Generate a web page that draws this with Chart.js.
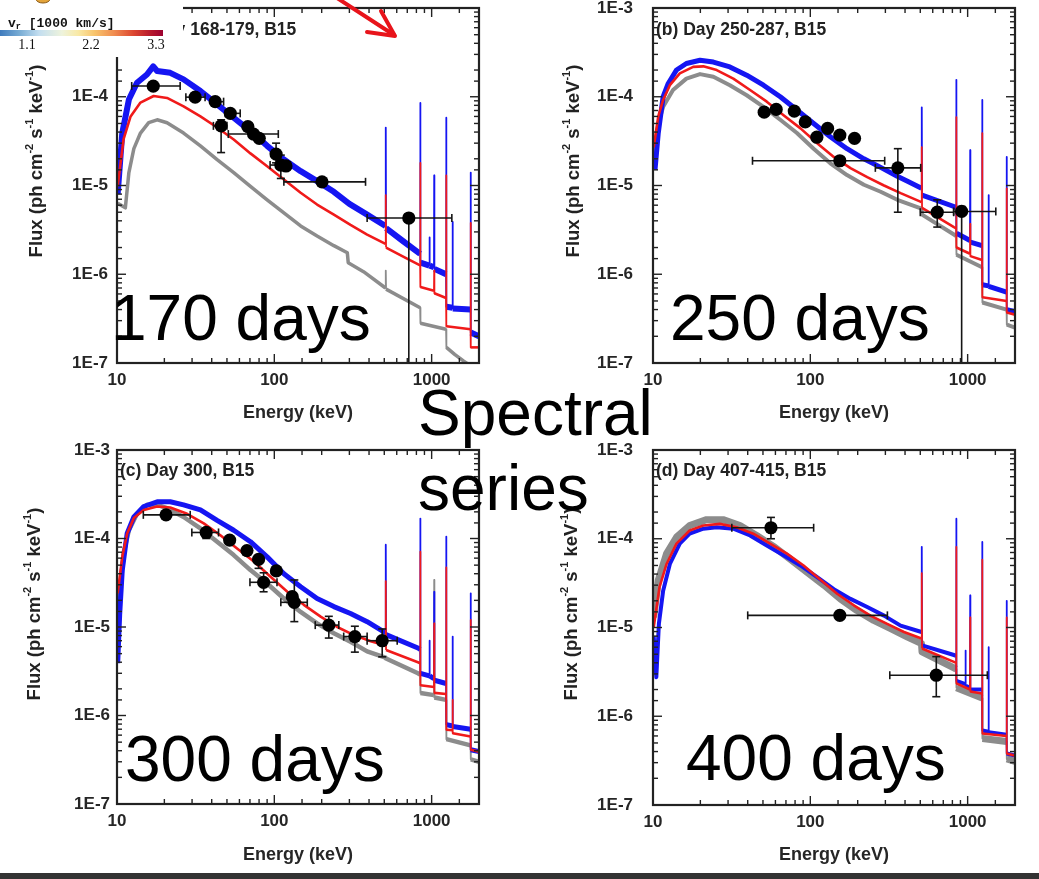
<!DOCTYPE html>
<html><head><meta charset="utf-8">
<script src="https://cdn.jsdelivr.net/npm/chart.js@4.4.1/dist/chart.umd.min.js"></script>
<style>
html,body{margin:0;padding:0;background:#fff;}
body{width:1039px;height:879px;position:relative;overflow:hidden;font-family:'Liberation Sans',Arial,sans-serif;}
.panel{position:absolute;}
.layer{position:absolute;left:0;top:0;width:1039px;height:879px;pointer-events:none;overflow:visible;}
#colorbar{position:absolute;left:0;top:0;width:183px;height:57px;background:#fff;}
#bar{position:absolute;left:0;top:30px;width:163px;height:6px;
 background:linear-gradient(to right,#3f7bbd 0%,#78acd4 12%,#c3def0 24%,#eef3dc 38%,#f9e9a6 48%,#f8c46c 58%,#f08c50 70%,#dc4630 82%,#b81a2c 92%,#9c0030 100%);}
#bottombar{position:absolute;left:0;top:873px;width:1039px;height:6px;background:#333;}
</style></head><body>
<div class="panel" style="left:0;top:0"><canvas id="ca" width="490" height="430"></canvas></div>
<div class="panel" style="left:520px;top:0"><canvas id="cb" width="510" height="430"></canvas></div>
<div class="panel" style="left:0;top:430px"><canvas id="cc" width="490" height="440"></canvas></div>
<div class="panel" style="left:520px;top:430px"><canvas id="cd" width="510" height="440"></canvas></div>

<svg class="layer" id="titles" xmlns="http://www.w3.org/2000/svg" font-family="Liberation Sans, Arial, sans-serif" font-weight="bold" fill="#222">
  <text x="127" y="35" font-size="17.5">(a) Day 168-179, B15</text>
  <text x="656" y="35" font-size="17.5">(b) Day 250-287, B15</text>
  <text x="120" y="476" font-size="17.5">(c) Day 300, B15</text>
  <text x="656" y="476" font-size="17.5">(d) Day 407-415, B15</text>
  <g font-size="18.5">
    <text transform="translate(35,161) rotate(-90)" text-anchor="middle" dominant-baseline="central">Flux (ph cm<tspan dy="-6" font-size="11">-2</tspan><tspan dy="6"> s</tspan><tspan dy="-6" font-size="11">-1</tspan><tspan dy="6"> keV</tspan><tspan dy="-6" font-size="11">-1</tspan><tspan dy="6">)</tspan></text>
    <text transform="translate(572,161) rotate(-90)" text-anchor="middle" dominant-baseline="central">Flux (ph cm<tspan dy="-6" font-size="11">-2</tspan><tspan dy="6"> s</tspan><tspan dy="-6" font-size="11">-1</tspan><tspan dy="6"> keV</tspan><tspan dy="-6" font-size="11">-1</tspan><tspan dy="6">)</tspan></text>
    <text transform="translate(33,604) rotate(-90)" text-anchor="middle" dominant-baseline="central">Flux (ph cm<tspan dy="-6" font-size="11">-2</tspan><tspan dy="6"> s</tspan><tspan dy="-6" font-size="11">-1</tspan><tspan dy="6"> keV</tspan><tspan dy="-6" font-size="11">-1</tspan><tspan dy="6">)</tspan></text>
    <text transform="translate(570,604) rotate(-90)" text-anchor="middle" dominant-baseline="central">Flux (ph cm<tspan dy="-6" font-size="11">-2</tspan><tspan dy="6"> s</tspan><tspan dy="-6" font-size="11">-1</tspan><tspan dy="6"> keV</tspan><tspan dy="-6" font-size="11">-1</tspan><tspan dy="6">)</tspan></text>
  </g>
</svg>

<div id="colorbar">
  <div id="bar"></div>
  <svg width="183" height="57" style="position:absolute;left:0;top:0" xmlns="http://www.w3.org/2000/svg">
    <text x="8" y="27" font-family="Liberation Mono, monospace" font-weight="bold" font-size="13" fill="#111">v<tspan dy="2" font-size="8.5">r</tspan><tspan dy="-2"> [1000  km/s]</tspan></text>
    <g font-family="Liberation Serif, serif" font-size="14" fill="#111" text-anchor="middle">
      <text x="27" y="49">1.1</text><text x="91" y="49">2.2</text><text x="156" y="49">3.3</text>
    </g>
  </svg>
</div>

<svg class="layer" id="overlay" xmlns="http://www.w3.org/2000/svg" font-family="Liberation Sans, Arial, sans-serif" fill="#000">
  <ellipse cx="43" cy="-1" rx="7" ry="4" fill="#e3a43a" stroke="#8a5a18" stroke-width="1"/>
  <g stroke="#e8141b" stroke-width="4" stroke-linecap="round" stroke-linejoin="round" fill="none">
    <line x1="334" y1="-4" x2="394" y2="35"/>
    <polyline points="367,32 395,36 381,11"/>
  </g>
  <g font-size="64">
    <text x="111" y="340">170 days</text>
    <text x="670" y="340">250 days</text>
    <text x="125" y="781">300 days</text>
    <text x="686" y="780">400 days</text>
    <text x="418" y="435">Spectral</text>
    <text x="418" y="510">series</text>
  </g>
</svg>
<div id="bottombar"></div>

<script>
// ---------------- data (energy keV, flux ph cm^-2 s^-1 keV^-1) ----------------
const xTickValues = [10, 100, 1000];
const xTickLabels = ['10', '100', '1000'];
const yTickValues = [1e-7, 1e-6, 1e-5, 1e-4, 1e-3];
const yTickLabels = ['1E-7', '1E-6', '1E-5', '1E-4', '1E-3'];

// Panel (a) Day 168-179
const aBlue = [[10.1,8e-6],[10.8,3.9e-5],[11.9,9.3e-5],[13.4,1.44e-4],[15.5,1.78e-4],[17,2.2e-4],[18,1.95e-4],[21.8,1.86e-4],[26.5,1.57e-4],[33.9,1.16e-4],[43.3,8.2e-5],[55.2,5.8e-5],[70.5,4.1e-5],[90,2.8e-5],[115,1.96e-5],[147,1.45e-5],[187,1.12e-5],[239,8.5e-6],[300,6.2e-6],[389,4.7e-6],[509,3.5e-6],[511,4.5e-5],[513,3.3e-6],[650,2.4e-6],[845,1.7e-6],[847,8.5e-5],[849,1.35e-6],[968,1.25e-6],[970,2.6e-6],[972,1.25e-6],[1035,1.2e-6],[1038,1.3e-5],[1041,1.15e-6],[1235,1.0e-6],[1238,5.8e-5],[1241,4.3e-7],[1358,4.2e-7],[1360,3.9e-6],[1362,4.1e-7],[1768,4.0e-7],[1771,1.4e-5],[1774,2.2e-7],[2000,2.0e-7]];
const aRed = [[10.1,9.8e-6],[11,3.3e-5],[12.2,6.0e-5],[14.1,8.6e-5],[17.1,1.02e-4],[20.8,9.7e-5],[26.5,7.8e-5],[33.9,6.0e-5],[43.3,4.5e-5],[55.2,3.3e-5],[70.5,2.3e-5],[90,1.65e-5],[115,1.17e-5],[147,8.3e-6],[187,6.1e-6],[239,4.7e-6],[305,3.6e-6],[389,2.8e-6],[509,2.2e-6],[511,7.8e-6],[513,2.0e-6],[650,1.6e-6],[845,1.26e-6],[847,1.8e-5],[849,7.2e-7],[1035,6.5e-7],[1038,1.1e-6],[1041,6.1e-7],[1235,5.4e-7],[1238,1.3e-5],[1241,2.6e-7],[1768,2.4e-7],[1771,3.8e-6],[1774,1.5e-7],[2000,1.5e-7]];
const aGray = [[10.1,6.3e-6],[11.3,5.6e-6],[11.9,1.4e-5],[12.8,2.6e-5],[14.1,3.9e-5],[15.9,5.1e-5],[18,5.5e-5],[20.8,5.1e-5],[26.5,3.9e-5],[33.9,2.8e-5],[43.3,1.96e-5],[55.2,1.4e-5],[70.5,9.8e-6],[90,6.9e-6],[115,4.9e-6],[147,3.5e-6],[187,2.7e-6],[239,2.1e-6],[291,1.75e-6],[295,1.35e-6],[369,1.07e-6],[509,7.0e-7],[511,1.1e-6],[513,6.8e-7],[845,4.2e-7],[849,2.8e-7],[1235,2.4e-7],[1241,1.5e-7],[1400,1.25e-7],[1600,1.05e-7],[2000,8e-8]];
const aPoints = [[17.0,1.32e-4],[31.4,9.9e-5],[42.1,8.8e-5],[52.5,6.5e-5],[45.9,4.7e-5],[67.9,4.6e-5],[73.8,3.8e-5],[80.2,3.4e-5],[102.6,2.26e-5],[110,1.7e-5],[118.6,1.66e-5],[201,1.1e-5],[716,4.3e-6]];
const aErrE = [[12.4,25.2],[27.4,36.3],[40,47.6],[48.8,60.7],[41,50],null,[51,106],null,null,[94,126],null,[115,380],[389,1344]];
const aErrF = [null,null,null,null,[2.35e-5,5.5e-5],null,null,null,[1.8e-5,3.0e-5],[1.2e-5,2.2e-5],null,null,[1e-9,4.6e-6]];

// Panel (b) Day 250-287
const bBlue = [[10.3,1.5e-5],[10.8,3.9e-5],[11.6,1.0e-4],[12.5,1.41e-4],[14.1,2.0e-4],[16.3,2.37e-4],[19.9,2.58e-4],[24.2,2.46e-4],[30.8,2.17e-4],[39.4,1.75e-4],[50.4,1.35e-4],[64.4,1.0e-4],[82.2,7.1e-5],[105,5.0e-5],[134,3.55e-5],[171,2.6e-5],[219,2.0e-5],[280,1.6e-5],[357,1.27e-5],[421,1.1e-5],[509,9.3e-6],[511,7.6e-5],[513,7.8e-6],[818,5.8e-6],[845,5.6e-6],[847,1.55e-4],[849,2.9e-6],[1035,2.4e-6],[1038,2.5e-5],[1041,2.3e-6],[1235,2.1e-6],[1238,9.2e-5],[1241,7.6e-7],[1358,7.4e-7],[1360,7.8e-6],[1362,7.3e-7],[1768,6.3e-7],[1771,2.1e-5],[1774,4.0e-7],[2000,3.8e-7]];
const bRed = [[10.1,2.7e-5],[10.8,6.0e-5],[11.6,9.2e-5],[12.8,1.35e-4],[14.8,1.83e-4],[18,2.17e-4],[20.9,2.2e-4],[25.4,2.0e-4],[32.4,1.6e-4],[41.4,1.19e-4],[52.9,8.8e-5],[67.6,6.2e-5],[86.6,4.4e-5],[110.5,3.0e-5],[141,2.1e-5],[180,1.57e-5],[230,1.24e-5],[294,1.0e-5],[375,8.2e-6],[509,6.5e-6],[511,2.7e-5],[513,5.6e-6],[818,3.4e-6],[845,3.3e-6],[847,5.9e-5],[849,2.0e-6],[1035,1.7e-6],[1038,3.7e-6],[1041,1.6e-6],[1235,1.45e-6],[1238,3.9e-5],[1241,5.5e-7],[1768,5.0e-7],[1771,9.3e-6],[1774,3.7e-7],[2000,3.5e-7]];
const bGray = [[10.1,2.1e-5],[10.8,5.0e-5],[11.6,7.7e-5],[13.4,1.19e-4],[16.3,1.6e-4],[19.9,1.8e-4],[24.2,1.68e-4],[30.8,1.35e-4],[39.4,1.04e-4],[50.4,7.7e-5],[64.4,5.5e-5],[82.2,3.9e-5],[105,2.6e-5],[134,1.78e-5],[171,1.31e-5],[219,1.02e-5],[280,8.5e-6],[357,6.9e-6],[509,5.5e-6],[513,4.7e-6],[818,2.8e-6],[845,2.7e-6],[849,1.66e-6],[1235,1.2e-6],[1241,4.8e-7],[1768,4.0e-7],[1774,2.7e-7],[2000,2.5e-7]];
const bPoints = [[50.9,6.7e-5],[60.7,7.2e-5],[79.1,6.9e-5],[92.9,5.2e-5],[128.8,4.4e-5],[110,3.5e-5],[154,3.7e-5],[191,3.4e-5],[154,1.9e-5],[360,1.58e-5],[641,5.0e-6],[916,5.1e-6]];
const bErrE = [null,null,null,null,null,null,null,null,[42.9,297],[259,503],[500,815],[815,1510]];
const bErrF = [null,null,null,null,null,null,null,null,null,[5.0e-6,2.6e-5],[3.4e-6,6.9e-6],[1e-9,5.8e-6]];

// Panel (c) Day 300
const cBlue = [[10.1,3.9e-6],[10.4,1.4e-5],[10.8,4.4e-5],[11.6,1.14e-4],[12.8,1.75e-4],[14.8,2.3e-4],[18,2.6e-4],[21.8,2.6e-4],[26.5,2.4e-4],[33.9,2.1e-4],[43.3,1.6e-4],[55.2,1.24e-4],[70.5,9.2e-5],[90,6.2e-5],[115,4.0e-5],[147,2.85e-5],[187,2.1e-5],[239,1.7e-5],[305,1.42e-5],[389,1.15e-5],[509,8.6e-6],[511,8.5e-5],[513,8.2e-6],[818,5.8e-6],[845,5.6e-6],[847,1.68e-4],[849,3.0e-6],[968,2.8e-6],[970,7e-6],[972,2.8e-6],[1035,2.6e-6],[1038,2.5e-5],[1041,2.5e-6],[1235,2.3e-6],[1238,1.05e-4],[1241,7.9e-7],[1358,7.6e-7],[1360,7.8e-6],[1362,7.5e-7],[1768,7.0e-7],[1771,2.4e-5],[1774,4.1e-7],[2000,3.9e-7]];
const cRed = [[10.1,2.4e-5],[10.8,6.2e-5],[11.6,1.14e-4],[12.8,1.7e-4],[14.8,2.1e-4],[18,2.3e-4],[21.8,2.24e-4],[27.9,1.9e-4],[35.6,1.48e-4],[45.4,1.09e-4],[58,7.7e-5],[74.1,5.5e-5],[94.6,3.7e-5],[121,2.5e-5],[154,1.78e-5],[197,1.31e-5],[251,1.0e-5],[321,8.1e-6],[410,6.9e-6],[509,6.2e-6],[511,3.3e-5],[513,5.5e-6],[818,4.0e-6],[845,3.9e-6],[847,7.1e-5],[849,2.2e-6],[1035,2.1e-6],[1038,1.1e-5],[1041,1.8e-6],[1235,1.75e-6],[1238,4.7e-5],[1241,6.9e-7],[1358,6.8e-7],[1360,1.5e-6],[1362,6.3e-7],[1768,5.8e-7],[1771,1.2e-5],[1774,4.1e-7],[2000,3.9e-7]];
const cGray = [[10.1,5.5e-6],[10.5,2.6e-5],[11,6.8e-5],[11.9,1.24e-4],[13.4,1.9e-4],[15.5,2.4e-4],[18,2.4e-4],[20.8,2.2e-4],[26.5,1.75e-4],[33.9,1.3e-4],[43.3,9.2e-5],[55.2,6.5e-5],[70.5,4.4e-5],[90,3.1e-5],[115,2.1e-5],[147,1.48e-5],[187,1.1e-5],[239,8.5e-6],[305,6.8e-6],[389,5.3e-6],[509,4.5e-6],[513,4.4e-6],[818,3.0e-6],[845,2.9e-6],[849,1.8e-6],[1035,1.7e-6],[1038,3.4e-5],[1041,1.6e-6],[1235,1.5e-6],[1241,5.4e-7],[1768,4.6e-7],[1774,3.2e-7],[2000,3.0e-7]];
const cPoints = [[20.5,1.85e-4],[36.9,1.17e-4],[52,9.6e-5],[67,7.3e-5],[79.4,5.8e-5],[103,4.3e-5],[85.5,3.2e-5],[130,2.2e-5],[134,1.9e-5],[222,1.05e-5],[325,7.8e-6],[485,7.0e-6]];
const cErrE = [[14.7,29.2],[29.9,44.2],null,null,null,null,[70,104],null,[110,162],[182,257],[276,389],[389,604]];
const cErrF = [null,[1.0e-4,1.17e-4],null,null,[4.6e-5,5.8e-5],null,[2.5e-5,4.1e-5],null,[1.15e-5,3.4e-5],[7.5e-6,1.32e-5],[5.2e-6,1.02e-5],[4.6e-6,9.5e-6]];

// Panel (d) Day 407-415
const dBlue = [[10.1,8e-6],[10.5,2.75e-6],[10.9,1.1e-5],[11.6,2.6e-5],[12.8,5.2e-5],[14.8,8.8e-5],[17.1,1.14e-4],[20.9,1.3e-4],[25.4,1.35e-4],[32.4,1.3e-4],[41.4,1.09e-4],[52.9,8.4e-5],[67.6,6.5e-5],[86.6,5.0e-5],[110.5,3.7e-5],[141,2.7e-5],[180,2.1e-5],[230,1.7e-5],[294,1.36e-5],[375,1.05e-5],[509,8.9e-6],[511,8.1e-5],[513,6.3e-6],[818,4.9e-6],[845,4.8e-6],[847,1.68e-4],[849,2.5e-6],[968,2.3e-6],[970,5.5e-6],[972,2.2e-6],[1035,2.1e-6],[1038,2.3e-5],[1041,2.0e-6],[1235,2.0e-6],[1238,9.2e-5],[1241,6.9e-7],[1358,6.7e-7],[1360,6e-6],[1362,6.6e-7],[1768,6.2e-7],[1771,2.0e-5],[1774,3.8e-7],[2000,3.6e-7]];
const dRed = [[10.1,1.0e-5],[11,2.85e-5],[12.2,5.2e-5],[14.1,8.8e-5],[17.1,1.24e-4],[20.9,1.41e-4],[26.6,1.47e-4],[34,1.35e-4],[43.4,1.14e-4],[55.5,8.8e-5],[71,6.8e-5],[90.6,5.0e-5],[116,3.45e-5],[148,2.4e-5],[189,1.78e-5],[241,1.36e-5],[308,1.1e-5],[394,8.9e-6],[509,7.5e-6],[511,4.1e-5],[513,5.8e-6],[818,4.1e-6],[845,4.0e-6],[847,8.1e-5],[849,2.35e-6],[1035,2.0e-6],[1038,1.3e-5],[1041,1.9e-6],[1235,1.8e-6],[1238,5.8e-5],[1241,6.4e-7],[1768,6.0e-7],[1771,1.3e-5],[1774,3.8e-7],[2000,3.6e-7]];
const dGray = [[10.1,1.3e-5],[10.8,3.4e-5],[12.2,6.8e-5],[14.1,1.04e-4],[17.1,1.41e-4],[21.9,1.64e-4],[27.9,1.64e-4],[35.7,1.41e-4],[45.6,1.09e-4],[58.3,8.2e-5],[74.5,5.9e-5],[95.3,4.2e-5],[122,3.0e-5],[155,2.1e-5],[198,1.55e-5],[253,1.2e-5],[324,9.7e-6],[415,7.8e-6],[509,6.6e-6],[513,5.3e-6],[818,3.5e-6],[845,3.4e-6],[849,2.1e-6],[1235,1.6e-6],[1241,5.6e-7],[1768,5.2e-7],[1774,3.3e-7],[2000,3.1e-7]];
const dPoints = [[56.2,1.33e-4],[154,1.37e-5],[632,2.9e-6]];
const dErrE = [[31.7,105],[40,309],[320,1334]];
const dErrF = [[1.0e-4,1.74e-4],null,[1.66e-6,4.7e-6]];

// ---------------- rendering ----------------
const FONT = "'Liberation Sans', Arial, sans-serif";
const TXT = '#262626';
const toXY = arr => arr.map(p => ({x: p[0], y: p[1]}));
const matchLabel = (v, vals, labs) => {
  for (let i = 0; i < vals.length; i++) if (Math.abs(v / vals[i] - 1) < 1e-6) return labs[i];
  return '';
};
const isMajor = v => Math.abs(Math.log10(v) - Math.round(Math.log10(v))) < 1e-6;

function errorBarPlugin(points, errE, errF) {
  return {
    id: 'errorBars',
    beforeDatasetDraw(chart, args) {
      if (args.index !== 0) return;
      const {ctx, chartArea: ca, scales: {x, y}} = chart;
      ctx.save();
      ctx.beginPath(); ctx.rect(ca.left, ca.top, ca.right - ca.left, ca.bottom - ca.top); ctx.clip();
      ctx.strokeStyle = '#151515'; ctx.lineWidth = 1.6;
      const seg = (x1, y1, x2, y2) => { ctx.beginPath(); ctx.moveTo(x1, y1); ctx.lineTo(x2, y2); ctx.stroke(); };
      points.forEach((p, i) => {
        const px = x.getPixelForValue(p[0]), py = y.getPixelForValue(p[1]);
        const ex = errE[i], ey = errF[i];
        if (ex) {
          const a = x.getPixelForValue(ex[0]), b = x.getPixelForValue(ex[1]);
          seg(a, py, b, py); seg(a, py - 4, a, py + 4); seg(b, py - 4, b, py + 4);
        }
        if (ey) {
          const a = y.getPixelForValue(ey[0]), b = y.getPixelForValue(ey[1]);
          seg(px, a, px, b); seg(px - 4, a, px + 4, a); seg(px - 4, b, px + 4, b);
        }
      });
      ctx.restore();
    }
  };
}

const framePlugin = {
  id: 'frame',
  afterDatasetsDraw(chart) {
    const {ctx, chartArea: {left, top, right, bottom}, scales: {x, y}} = chart;
    ctx.save();
    ctx.strokeStyle = '#222';
    ctx.lineWidth = 1.4;
    const seg = (x1, y1, x2, y2) => { ctx.beginPath(); ctx.moveTo(x1, y1); ctx.lineTo(x2, y2); ctx.stroke(); };
    x.ticks.forEach(t => {
      const px = x.getPixelForValue(t.value); const L = isMajor(t.value) ? 9 : 5;
      seg(px, bottom, px, bottom - L); seg(px, top, px, top + L);
    });
    y.ticks.forEach(t => {
      const py = y.getPixelForValue(t.value); const L = isMajor(t.value) ? 9 : 5;
      seg(left, py, left + L, py); seg(right, py, right - L, py);
    });
    ctx.lineWidth = 2.2;
    ctx.strokeRect(left, top, right - left, bottom - top);
    ctx.restore();
  }
};

function lineDS(label, arr, color, width, order) {
  return {
    label, data: toXY(arr), showLine: true, borderColor: color, backgroundColor: color,
    borderWidth: width, pointRadius: 0, order, borderJoinStyle: 'round', borderCapStyle: 'butt',
    segment: { borderWidth: c => (c.p1.parsed.x / c.p0.parsed.x < 1.006 ? 1.8 : undefined) }
  };
}

function makeChart(id, cfg) {
  const fixAxis = (prop, val) => s => {
    s[prop] = val; s.paddingLeft = 0; s.paddingRight = 0; s.paddingTop = 0; s.paddingBottom = 0;
  };
  new Chart(document.getElementById(id), {
    type: 'scatter',
    data: {
      datasets: [
        {label: 'data', data: toXY(cfg.points), pointRadius: 6.6, pointBackgroundColor: '#000',
         pointBorderWidth: 0, showLine: false, order: 0},
        lineDS('red', cfg.red, '#f01a1a', 2.6, 1),
        lineDS('blue', cfg.blue, '#1515f2', cfg.blueW, 2),
        lineDS('gray', cfg.gray, '#8c8c8c', cfg.grayW, 3)
      ]
    },
    options: {
      responsive: false, animation: false, events: [],
      layout: {padding: {top: cfg.padTop, right: cfg.padRight, left: 0, bottom: 0}},
      plugins: {legend: {display: false}, tooltip: {enabled: false}, title: {display: false}},
      scales: {
        x: {
          type: 'logarithmic', min: 10, max: 2000, position: 'bottom',
          grid: {display: false, drawTicks: false}, border: {display: false},
          ticks: {autoSkip: false, maxRotation: 0, padding: 7, color: TXT,
                  font: {family: FONT, size: 17, weight: 'bold'},
                  callback: v => matchLabel(v, xTickValues, xTickLabels)},
          title: {display: true, text: 'Energy (keV)', color: TXT,
                  font: {family: FONT, size: 18, weight: 'bold'}, padding: {top: 0, bottom: cfg.xTitlePad}},
          afterFit: fixAxis('height', cfg.xH)
        },
        y: {
          type: 'logarithmic', min: 1e-7, max: 1e-3, position: 'left',
          grid: {display: false, drawTicks: false}, border: {display: false},
          ticks: {autoSkip: false, padding: cfg.yTickPad, color: TXT,
                  font: {family: FONT, size: 17, weight: 'bold'},
                  callback: v => matchLabel(v, yTickValues, yTickLabels)},
          afterFit: fixAxis('width', cfg.yW)
        }
      }
    },
    plugins: [errorBarPlugin(cfg.points, cfg.errE, cfg.errF), framePlugin]
  });
}

makeChart('ca', {blue: aBlue, red: aRed, gray: aGray, points: aPoints, errE: aErrE, errF: aErrF,
  blueW: 6, grayW: 3.5, padTop: 8, padRight: 11, yW: 117, xH: 67, yTickPad: 9, xTitlePad: 6});
makeChart('cb', {blue: bBlue, red: bRed, gray: bGray, points: bPoints, errE: bErrE, errF: bErrF,
  blueW: 5, grayW: 4, padTop: 8, padRight: 15, yW: 133, xH: 67, yTickPad: 20, xTitlePad: 6});
makeChart('cc', {blue: cBlue, red: cRed, gray: cGray, points: cPoints, errE: cErrE, errF: cErrF,
  blueW: 5, grayW: 4.5, padTop: 20, padRight: 11, yW: 117, xH: 66, yTickPad: 7, xTitlePad: 4});
makeChart('cd', {blue: dBlue, red: dRed, gray: dGray, points: dPoints, errE: dErrE, errF: dErrF,
  blueW: 4, grayW: 7, padTop: 20, padRight: 15, yW: 133, xH: 65, yTickPad: 20, xTitlePad: 4});
</script>
</body></html>
